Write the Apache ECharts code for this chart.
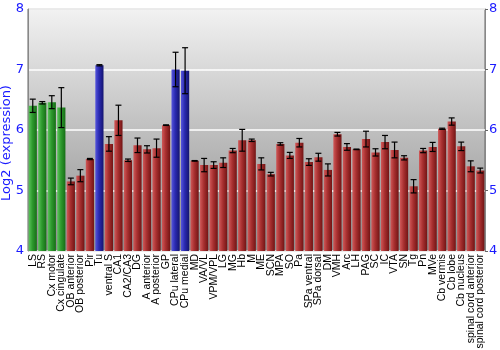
<!DOCTYPE html>
<html><head><meta charset="utf-8">
<script src="https://cdn.jsdelivr.net/npm/echarts@6/dist/echarts.min.js"></script>
<style>html,body{margin:0;padding:0;background:#fff}#c{width:500px;height:350px}</style>
</head><body><div id="c"></div>
<script>
const categories = ["LS","RS","Cx motor","Cx cingulate","OB anterior","OB posterior","Pir","Tu","ventral S","CA1","CA2/CA3","DG","A anterior","A posterior","GP","CPu lateral","CPu medial","MD","VA/VL","VPM/VPL","LG","MG","Hb","M","ME","SCN","MPA","SO","Pa","SPa ventral","SPa dorsal","DM","VMH","Arc","LH","PAG","SC","IC","VTA","SN","Tg","Pn","MVe","Cb vermis","Cb lobe","Cb nucleus","spinal cord anterior","spinal cord posterior"];
const values = [6.40,6.45,6.46,6.37,5.15,5.245,5.52,7.07,5.77,6.16,5.50,5.747,5.68,5.70,6.08,7.00,6.98,5.49,5.42,5.42,5.46,5.66,5.83,5.83,5.44,5.27,5.77,5.58,5.79,5.47,5.55,5.34,5.93,5.72,5.68,5.85,5.63,5.80,5.67,5.54,5.07,5.66,5.72,6.02,6.14,5.73,5.40,5.33];
const errors = [0.11,0.02,0.107,0.33,0.055,0.10,0.01,0.01,0.12,0.25,0.02,0.12,0.06,0.15,0.005,0.285,0.38,0.005,0.11,0.055,0.08,0.035,0.18,0.02,0.10,0.03,0.02,0.05,0.07,0.055,0.065,0.10,0.03,0.055,0.005,0.13,0.06,0.11,0.13,0.035,0.11,0.035,0.075,0.01,0.06,0.07,0.09,0.04];
const groups = ["g","g","g","g","r","r","r","b","r","r","r","r","r","r","r","b","b","r","r","r","r","r","r","r","r","r","r","r","r","r","r","r","r","r","r","r","r","r","r","r","r","r","r","r","r","r","r","r"];
const yTicks = [4,5,6,7,8];

const palette = {
  g: ['#5cc45c','#2e9a2e','#166e16'],
  r: ['#d05858','#a83030','#721414'],
  b: ['#5555dd','#2a2ab0','#141470']
};
function grad(c){
  return new echarts.graphic.LinearGradient(0,0,1,0,[
    {offset:0,color:c[0]},{offset:0.45,color:c[1]},{offset:1,color:c[2]}]);
}
const barData = values.map((v,i)=>({value:v,itemStyle:{color:grad(palette[groups[i]])}}));
const errData = values.map((v,i)=>[i, v-errors[i], v+errors[i]]);

const chart = echarts.init(document.getElementById('c'));
const axisLabelStyle = {color:'#1a1aff', fontSize:13, fontFamily:'DejaVu Sans', margin:4};
chart.setOption({
  animation:false,
  grid:{left:28,right:15,top:9,bottom:99,show:true,containLabel:false,outerBoundsMode:'none',
    backgroundColor:new echarts.graphic.LinearGradient(0,0,0,1,[{offset:0,color:'#f2f2f2'},{offset:1,color:'#8c8c8c'}]),
    borderColor:'#666',borderWidth:1},
  xAxis:{type:'category',data:categories,
    axisLine:{show:false},axisTick:{show:false},
    axisLabel:{rotate:90,interval:0,color:'#000',fontSize:10.5,fontFamily:'Liberation Sans',margin:3}},
  yAxis:[
    {type:'value',min:4,max:8,interval:1,position:'left',
     name:'Log2 (expression)',nameLocation:'middle',nameGap:15,nameMoveOverlap:false,
     nameTextStyle:{color:'#1a1aff',fontSize:13,fontFamily:'DejaVu Sans',padding:[0,26,0,0]},
     axisLine:{show:true,lineStyle:{color:'#888'}},axisTick:{show:false},
     axisLabel:axisLabelStyle,
     splitLine:{show:true,lineStyle:{color:'#ffffff',width:1.5}}},
    {type:'value',min:4,max:8,interval:1,position:'right',
     axisLine:{show:true,lineStyle:{color:'#888'}},axisTick:{show:true,length:3,lineStyle:{color:'#666'}},
     axisLabel:axisLabelStyle,splitLine:{show:false}}
  ],
  series:[
    {type:'bar',data:barData,barCategoryGap:'14%',z:2},
    {type:'custom',z:3,data:errData,
     renderItem:function(params,api){
       const x=api.value(0);
       const lo=api.coord([x,api.value(1)]);
       const hi=api.coord([x,api.value(2)]);
       const w=3;
       const st={stroke:'#000',lineWidth:1.2};
       return {type:'group',children:[
         {type:'line',shape:{x1:lo[0],y1:lo[1],x2:hi[0],y2:hi[1]},style:st},
         {type:'line',shape:{x1:lo[0]-w,y1:lo[1],x2:lo[0]+w,y2:lo[1]},style:st},
         {type:'line',shape:{x1:hi[0]-w,y1:hi[1],x2:hi[0]+w,y2:hi[1]},style:st}
       ]};
     }}
  ]
});
</script></body></html>
